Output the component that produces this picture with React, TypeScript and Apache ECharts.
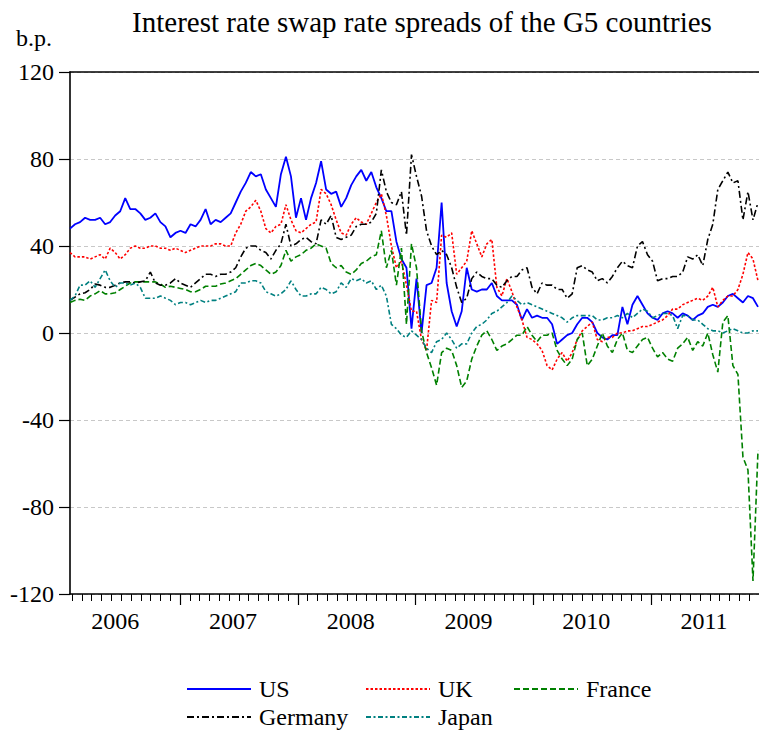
import React, { useEffect, useRef } from "react";
import * as echarts from "echarts";

// Observation dates as fractional years (first obs. late Jan 2006, about every 2.2 weeks)
const START_YEAR = 2006.0658;
const STEP_YEARS = 0.042649;

const US = [
  48, 50, 51, 53, 52, 52, 53, 50, 51, 54,
  56, 62, 57, 57, 55, 52, 53, 55, 51, 49,
  44, 46, 47, 46, 50, 49, 52, 57, 50, 52,
  51, 53, 55, 60, 65, 69, 74, 72, 73, 66,
  62, 58, 73, 81, 72, 53, 62, 52, 62, 69,
  79, 66, 64, 65, 58, 62, 68, 72, 75, 70,
  74, 67, 62, 56, 56, 42, 34, 30, 2, 25,
  0, 22, 23, 30, 60, 23, 10, 3, 10, 30,
  20, 19, 20, 20, 23, 17, 15, 15, 15, 13,
  6, 11, 7, 8, 7, 7, 4, -5, -3, -1,
  0, 4, 7, 7, 5, 0, -2, -3, -1, -1,
  12, 4, 13, 17, 13, 9, 7, 6, 9, 10,
  9, 7, 9, 8, 6, 8, 9, 12, 13, 12,
  14, 17, 18, 16, 14, 17, 16, 12,
];

const UK = [
  37, 35, 35, 35, 34, 35, 36, 34, 39, 37,
  34, 36, 39, 40, 39, 39, 40, 40, 39, 39,
  38, 39, 38, 37, 38, 39, 40, 40, 40, 41,
  41, 40, 40, 46, 50, 56, 58, 61, 56, 48,
  46, 49, 50, 59, 52, 47, 46, 48, 50, 51,
  66, 64, 59, 52, 46, 45, 50, 53, 51, 50,
  55, 60, 64, 54, 40, 30, 33, 22, 10, 10,
  -3, -8, 15, 14, 45, 44, 46, 27, 30, 33,
  47, 41, 35, 41, 43, 21, 17, 25, 19, 12,
  6, -2, -3, -5, -8, -15, -17, -12, -9, -13,
  -9, -3, 1, 3, 5, -3, -4, -2, -2, 0,
  0, 1, 1, 2, 3, 3, 4, 5, 6, 8,
  11, 11, 13, 14, 15, 16, 15, 17, 21, 12,
  15, 17, 17, 20, 27, 37, 34, 24,
];

const FRANCE = [
  14, 15, 15.5, 15, 17, 18, 19.5, 18, 18, 18.5,
  20, 21.5, 23, 23.5, 23.5, 23.5, 23.5, 23.5, 22.5, 21,
  21.5, 21, 20.5, 20, 19, 19, 20, 21.5, 21.5, 21.5,
  22.5, 23, 24, 25, 27, 29, 31, 32, 31, 29,
  27, 28, 31, 38, 33, 35, 36, 38, 39, 41,
  40, 39, 32, 30, 31, 28, 27, 29, 32, 33,
  35, 36, 47, 30, 38, 22, 39, 4, 41, 30,
  1, -9, -16, -24, -9, -7, -8, -15, -25, -22,
  -12, -6, -1, 1, -3, -8, -6, -5, -3, -1,
  -1, 3, -1, -4, -1, -1, 0, -8, -12, -15,
  -12, -3, 0, -15, -12, -6, 0, -6, -9, -3,
  0, -8, -9, -6, -3, -2, -7, -11, -9, -12,
  -13, -7, -5, -2, -8, -4, -6, 0, -10, -18,
  5, 8, -15, -19, -57, -63, -114, -54,
];

const GERMANY = [
  15, 16.5, 18, 18.5, 20, 22.5, 22, 21, 21, 22,
  23, 23.5, 23.5, 23, 23.5, 24, 28, 23, 22, 22,
  23, 25, 23, 22, 21, 23, 25, 27, 27, 26,
  27, 27, 28, 30, 35, 39, 40, 40, 38, 37,
  34, 38, 41, 50, 40, 41, 43, 44, 42, 41,
  52, 50, 54, 44, 43, 44, 45, 49, 50, 50,
  51, 55, 75, 65, 60, 59, 65, 45, 82, 72,
  63, 47, 40, 36, 38, 36, 30, 21, 14, 16,
  25, 28, 26, 25, 25, 22, 21, 24, 26, 26,
  29, 30, 21, 18, 23, 22, 22, 20, 20, 16,
  18, 30, 31, 29, 28, 24, 25, 23, 26, 30,
  33, 31, 30, 40, 42, 36, 33, 24, 25, 25,
  26, 26, 28, 35, 34, 36, 31, 43, 50, 66,
  70, 74, 69, 70, 52, 65, 52, 60,
];

const JAPAN = [
  15, 17, 22, 22, 24, 21, 25, 29, 24, 21,
  23, 23, 22, 23, 21, 16, 16, 16, 17, 16,
  15, 13, 14, 14, 13, 14, 15, 14, 15, 15,
  16, 17, 18, 19, 23, 23, 24, 24, 23, 19,
  18, 17, 18, 20, 24, 20, 17, 17, 18, 18,
  21, 20, 18, 19, 23, 21, 25, 24, 25, 23,
  24, 20, 22, 17, 4, 2, -1, -2, 1, -1,
  -3, -7, -9, -4, -3, 0, -3, -7, -5, -5,
  0, 3, 4, 6, 9, 10, 12, 14, 17, 15,
  13, 14, 13, 12, 11, 10, 9, 8, 7, 5,
  7, 8, 8, 8, 8, 6, 6, 7, 7, 8,
  7, 9, 7, 9, 11, 10, 7, 8, 9, 9,
  8, 2, 8, 8, 6, 6, 4, 2, 1, 1,
  0, 1, 2, 1, 0, 0, 1, 1,
];

const YEAR_LABELS = ["2006", "2007", "2008", "2009", "2010", "2011"];
const X_MIN = 2006.0658;
const X_MAX = 2011.9172;
const Y_MIN = -120;
const Y_MAX = 120;
const Y_INTERVAL = 40;

const FONT = "Liberation Serif";

const DATES = US.map((_, i) => START_YEAR + i * STEP_YEARS);

const SERIES = [
  { name: "US", values: US, color: "#0000ff", type: "solid" as any, width: 1.8 },
  { name: "UK", values: UK, color: "#ff0000", type: [2.5, 2] as any, width: 1.6 },
  { name: "France", values: FRANCE, color: "#008000", type: [6, 3] as any, width: 1.6 },
  { name: "Germany", values: GERMANY, color: "#000000", type: [7, 3, 2, 3] as any, width: 1.6 },
  { name: "Japan", values: JAPAN, color: "#008080", type: [5, 2.5, 2, 2.5] as any, width: 1.6 },
];

const LEGEND_POS: Record<string, { left: number; top: number }> = {
  US: { left: 186, top: 677 },
  UK: { left: 365, top: 677 },
  France: { left: 513, top: 677 },
  Germany: { left: 186, top: 705 },
  Japan: { left: 365, top: 705 },
};

const TXT = {
  fontFamily: FONT,
  fontSize: 24,
  color: "#000",
  fontWeight: "normal",
  fontStyle: "normal",
  textBorderWidth: 0,
  textShadowBlur: 0,
};

export default function App() {
  const ref = useRef<HTMLDivElement>(null);

  useEffect(() => {
    if (!ref.current) return;
    const chart = echarts.init(ref.current, undefined, { renderer: "svg" });

    const yearTicks: number[] = [];
    const monthTicks: number[] = [];
    const labelPos: number[] = [];
    YEAR_LABELS.forEach((y) => {
      const yr = Number(y);
      if (yr > X_MIN && yr < X_MAX) yearTicks.push(yr);
      labelPos.push(yr + 0.45);
      for (let m = 1; m < 12; m++) {
        const v = yr + m / 12;
        if (v > X_MIN && v < X_MAX) monthTicks.push(v);
      }
    });

    const option: any = {
      animation: false,
      backgroundColor: "#ffffff",
      textStyle: { fontFamily: FONT },
      title: {
        text: "Interest rate swap rate spreads of the G5 countries",
        left: 417,
        top: 2,
        textAlign: "center",
        textStyle: { ...TXT, fontSize: 29 },
      },
      legend: SERIES.map((s) => ({
        data: [s.name],
        left: LEGEND_POS[s.name].left,
        top: LEGEND_POS[s.name].top,
        itemWidth: 64,
        itemHeight: 14,
        padding: 0,
        selectedMode: false,
        itemStyle: { opacity: 0 },
        textStyle: { ...TXT, padding: [0, 0, 0, 3] },
      })),
      grid: { left: 70, right: 0, top: 72, bottom: 139, containLabel: false },
      xAxis: [
        {
          type: "value",
          min: X_MIN,
          max: X_MAX,
          position: "bottom",
          axisLine: { show: true, onZero: false, lineStyle: { color: "#000", width: 1.6 } },
          axisTick: { show: true, length: 11, customValues: yearTicks, lineStyle: { color: "#000", width: 1.2 } },
          axisLabel: {
            show: true,
            customValues: labelPos,
            margin: 15,
            ...TXT,
            formatter: (v: number) => String(Math.floor(v + 1e-6)),
          },
          splitLine: { show: false },
        },
        {
          type: "value",
          min: X_MIN,
          max: X_MAX,
          position: "bottom",
          axisLine: { show: false, onZero: false },
          axisTick: { show: true, length: 7, customValues: monthTicks, lineStyle: { color: "#000", width: 1 } },
          axisLabel: { show: false },
          splitLine: { show: false },
        },
        {
          type: "value",
          min: X_MIN,
          max: X_MAX,
          position: "top",
          axisLine: { show: true, onZero: false, lineStyle: { color: "#000", width: 1.6 } },
          axisTick: { show: false },
          axisLabel: { show: false },
          splitLine: { show: false },
        },
      ],
      yAxis: {
        type: "value",
        min: Y_MIN,
        max: Y_MAX,
        interval: Y_INTERVAL,
        name: "b.p.",
        nameLocation: "end",
        nameGap: 22,
        nameTextStyle: {
          ...TXT,
          align: "right",
          verticalAlign: "bottom",
          padding: [0, 18, 0, 0],
        },
        axisLine: { show: true, onZero: false, lineStyle: { color: "#000", width: 1.6 } },
        axisTick: { show: true, length: 11, lineStyle: { color: "#000", width: 1.2 } },
        axisLabel: { ...TXT, margin: 16 },
        splitLine: { show: true, lineStyle: { color: "#c8c8c8", type: [4, 3], width: 1 } },
      },
      series: SERIES.map((s) => ({
        name: s.name,
        type: "line",
        xAxisIndex: 0,
        symbol: "none",
        data: DATES.map((d, i) => [d, s.values[i]]),
        itemStyle: { color: s.color },
        lineStyle: { color: s.color, width: s.width, type: s.type },
      })),
    };

    chart.setOption(option);
    return () => chart.dispose();
  }, []);

  return (
    <>
      <style>{`.g5-chart svg text, .g5-chart svg tspan { font-family: "Liberation Serif", "Times New Roman", serif !important; font-weight: 400 !important; stroke: none !important; stroke-width: 0 !important; }`}</style>
      <div
        ref={ref}
        className="g5-chart"
        style={{ position: "fixed", left: 0, top: 0, width: 759, height: 733, background: "#fff", fontFamily: "Liberation Serif" }}
      />
    </>
  );
}
